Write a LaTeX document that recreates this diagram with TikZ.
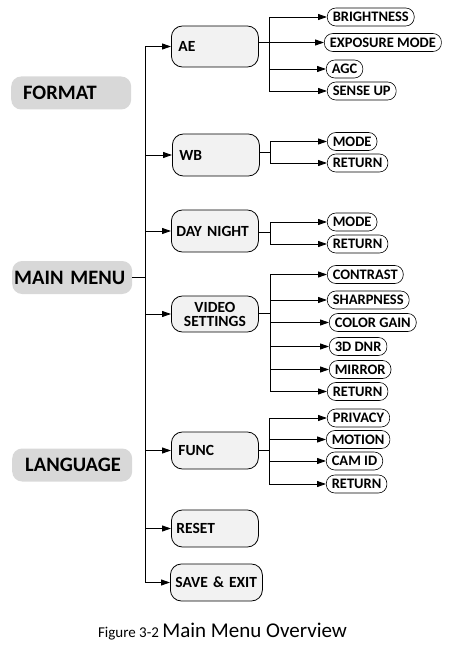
\documentclass[tikz,border=0pt]{standalone}
\usepackage{fontspec}
\setmainfont{Carlito}
\usetikzlibrary{arrows.meta,calc}
\definecolor{leftgray}{HTML}{D8D8D8}
\definecolor{midgray}{HTML}{F2F2F2}
\tikzset{
  leftbox/.style={fill=leftgray, rounded corners=10pt, minimum height=33pt, inner xsep=0pt, inner ysep=0pt, text width=120pt, align=left, font=\bfseries\fontsize{20.5}{22}\selectfont, anchor=west},
  midbox/.style={draw, line width=0.8pt, fill=midgray, rounded corners=11pt, inner xsep=7pt, inner ysep=0pt, text width=73pt, align=left, font=\bfseries\fontsize{15.5}{17}\selectfont, anchor=west},
  leaf/.style={draw, line width=0.6pt, fill=white, rounded corners=8.5pt, minimum height=18pt, inner xsep=5.5pt, inner ysep=0pt, font=\bfseries\fontsize{14.5}{16}\selectfont, anchor=west},
  conn/.style={line width=0.9pt},
  arr/.style={line width=0.9pt, -{Triangle[length=9pt,width=6pt]}}
}
\begin{document}
\begin{tikzpicture}[x=1pt,y=-1pt]
\useasboundingbox (0,0) rectangle (458,647);
% left boxes
\node[leftbox] (format) at (11,93) {\hspace*{12pt}FORMAT};
\node[leftbox] (main) at (12,277.5) {\hspace*{2pt}MAIN MENU};
\node[leftbox] (lang) at (12,465) {\hspace*{13pt}LANGUAGE};
% middle boxes
\node[midbox, minimum height=41pt] (ae) at (171,46.5) {AE};
\node[midbox, minimum height=42pt] (wb) at (172,155) {WB};
\node[midbox, minimum height=42pt, inner xsep=5pt, text width=77pt] (dn) at (171,231) {DAY NIGHT};
\node[midbox, minimum height=36pt, align=center] (vs) at (171,314) {VIDEO\\[-3pt]SETTINGS};
\node[midbox, minimum height=37pt] (func) at (171,450.5) {FUNC};
\node[midbox, minimum height=37pt, inner xsep=5pt, text width=77pt] (reset) at (171,528.5) {RESET};
\node[midbox, minimum height=37pt, inner xsep=5pt, text width=82pt] (save) at (170,582.5) {SAVE \& EXIT};
% trunk
\coordinate (ttop) at (145,47);
\coordinate (tbot) at (145,583);
\draw[conn] (ttop) -- (tbot);
\draw[conn] (main.east) -- (main.east -| ttop);
\foreach \n in {ae,wb,dn,vs,func,reset,save}{
  \draw[arr] (\n.west -| ttop) -- (\n.west);
}
% AE leaves
\node[leaf] (bri) at (327,17) {BRIGHTNESS};
\node[leaf] (exp) at (324,42.5) {EXPOSURE MODE};
\node[leaf] (agc) at (326,69) {AGC};
\node[leaf] (sen) at (327,91) {SENSE UP};
\coordinate (aeb) at (269,0);
\draw[conn] (ae.east |- exp.west) -- (exp.west -| aeb);
\draw[conn] (aeb |- bri.west) -- (aeb |- sen.west);
\foreach \n in {bri,exp,agc,sen}{ \draw[arr] (aeb |- \n.west) -- (\n.west); }
% WB leaves
\node[leaf] (wbm) at (327,141.5) {MODE};
\node[leaf] (wbr) at (327,163) {RETURN};
\coordinate (wbb) at (270,0);
\draw[conn] (wb.east |- 0,152) -- (wbb |- 0,152);
\draw[conn] (wbb |- wbm.west) -- (wbb |- wbr.west);
\foreach \n in {wbm,wbr}{ \draw[arr] (wbb |- \n.west) -- (\n.west); }
% DAY NIGHT leaves
\node[leaf] (dnm) at (327,222) {MODE};
\node[leaf] (dnr) at (327,244) {RETURN};
\coordinate (dnb) at (270,0);
\draw[conn] (dn.east |- 0,232) -- (dnb |- 0,232);
\draw[conn] (dnb |- dnm.west) -- (dnb |- dnr.west);
\foreach \n in {dnm,dnr}{ \draw[arr] (dnb |- \n.west) -- (\n.west); }
% VIDEO SETTINGS leaves
\node[leaf] (con) at (327,274.5) {CONTRAST};
\node[leaf] (sha) at (327,300) {SHARPNESS};
\node[leaf] (col) at (329,322.5) {COLOR GAIN};
\node[leaf] (dnr3) at (329,346.5) {3D DNR};
\node[leaf] (mir) at (329,369.5) {MIRROR};
\node[leaf] (vsr) at (327,391.5) {RETURN};
\coordinate (vsb) at (270,0);
\draw[conn] (vs.east |- 0,313) -- (vsb |- 0,313);
\draw[conn] (vsb |- con.west) -- (vsb |- vsr.west);
\foreach \n in {con,sha,col,dnr3,mir,vsr}{ \draw[arr] (vsb |- \n.west) -- (\n.west); }
% FUNC leaves
\node[leaf] (pri) at (327,418) {PRIVACY};
\node[leaf] (mot) at (326,439.5) {MOTION};
\node[leaf] (cam) at (326,461) {CAM ID};
\node[leaf] (fr) at (326,484) {RETURN};
\coordinate (fb) at (269,0);
\draw[conn] (func.east) -- (func.east -| fb);
\draw[conn] (fb |- pri.west) -- (fb |- fr.west);
\foreach \n in {pri,mot,cam,fr}{ \draw[arr] (fb |- \n.west) -- (\n.west); }
% caption
\node[inner sep=0pt] (cap) at (222.5,632) {\fontsize{15}{18}\selectfont Figure 3-2 \fontsize{21}{25}\selectfont Main Menu Overview};
\end{tikzpicture}
\end{document}
